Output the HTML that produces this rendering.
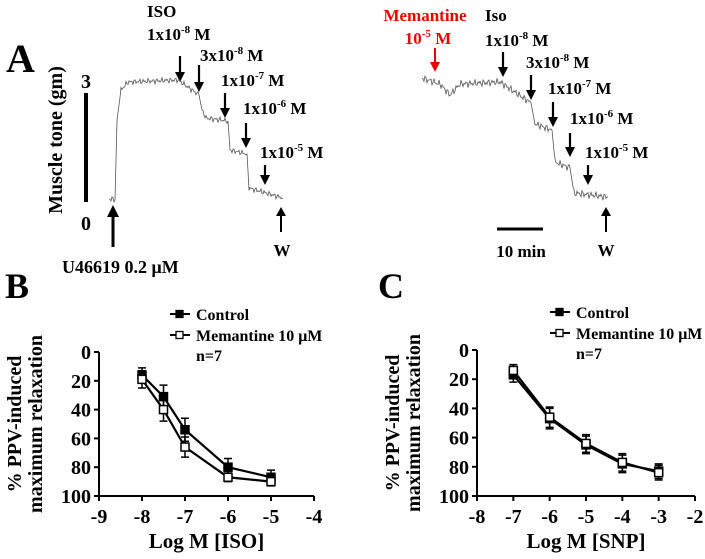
<!DOCTYPE html>
<html><head><meta charset="utf-8"><style>
html,body{margin:0;padding:0;background:#fff;}
svg{display:block;font-family:"Liberation Serif",serif;font-weight:bold;}
</style></head><body>
<svg id="fig" width="705" height="559" viewBox="0 0 705 559" xmlns="http://www.w3.org/2000/svg">
<g id="panelA">
<text x="6" y="72" font-size="40">A</text>
<text transform="translate(62,140) rotate(-90)" text-anchor="middle" font-size="20">Muscle tone (gm)</text>
<line x1="86" y1="93" x2="86" y2="202" stroke="#000" stroke-width="4"/>
<text x="86" y="88" text-anchor="middle" font-size="20">3</text>
<text x="86" y="230" text-anchor="middle" font-size="20">0</text>
<text x="147" y="17" font-size="17">ISO</text>
<g font-size="17">
<text x="147" y="40">1x10<tspan font-size="11" dy="-7">-8</tspan><tspan dy="7"> M</tspan></text>
<text x="200" y="61">3x10<tspan font-size="11" dy="-7">-8</tspan><tspan dy="7"> M</tspan></text>
<text x="221" y="86">1x10<tspan font-size="11" dy="-7">-7</tspan><tspan dy="7"> M</tspan></text>
<text x="243" y="114">1x10<tspan font-size="11" dy="-7">-6</tspan><tspan dy="7"> M</tspan></text>
<text x="260" y="158">1x10<tspan font-size="11" dy="-7">-5</tspan><tspan dy="7"> M</tspan></text>
</g>
<g id="downArrowsL"></g>
<line x1="113" y1="247" x2="113" y2="214" stroke="#000" stroke-width="3"/>
<path d="M107,217 L119,217 L113,205 z" fill="#000"/>
<line x1="281" y1="232" x2="281" y2="214" stroke="#000" stroke-width="2"/>
<path d="M276,216 L286,216 L281,207 z" fill="#000"/>
<text x="62" y="273" font-size="18">U46619 0.2 μM</text>
<text x="282" y="256" text-anchor="middle" font-size="17">W</text>
<polyline id="traceL" fill="none" stroke="#555" stroke-width="0.8"/>
</g>
<g id="panelA2">
<text x="425" y="21" text-anchor="middle" font-size="17" fill="#e00">Memantine</text>
<text x="428" y="44" text-anchor="middle" font-size="17" fill="#e00">10<tspan font-size="11" dy="-7">-5</tspan><tspan dy="7"> M</tspan></text>
<line x1="435" y1="48" x2="435" y2="64" stroke="#e00" stroke-width="2"/>
<path d="M430,62 L440,62 L435,72 z" fill="#e00"/>
<text x="485" y="21" font-size="17">Iso</text>
<g font-size="17">
<text x="485" y="46">1x10<tspan font-size="11" dy="-7">-8</tspan><tspan dy="7"> M</tspan></text>
<text x="526" y="68">3x10<tspan font-size="11" dy="-7">-8</tspan><tspan dy="7"> M</tspan></text>
<text x="548" y="94">1x10<tspan font-size="11" dy="-7">-7</tspan><tspan dy="7"> M</tspan></text>
<text x="570" y="124">1x10<tspan font-size="11" dy="-7">-6</tspan><tspan dy="7"> M</tspan></text>
<text x="585" y="158">1x10<tspan font-size="11" dy="-7">-5</tspan><tspan dy="7"> M</tspan></text>
</g>
<g id="downArrowsR"></g>
<line x1="606" y1="232" x2="606" y2="214" stroke="#000" stroke-width="2"/>
<path d="M601,216 L611,216 L606,207 z" fill="#000"/>
<text x="606" y="256" text-anchor="middle" font-size="17">W</text>
<line x1="497" y1="229" x2="543" y2="229" stroke="#000" stroke-width="3"/>
<text x="521" y="257" text-anchor="middle" font-size="17">10 min</text>
<polyline id="traceR" fill="none" stroke="#555" stroke-width="0.8"/>
</g>
<g id="panelB"></g>
<g id="panelC"></g>
</svg>
<script>
// Panel B data
const bX = [-8, -7.5, -7, -6, -5];
const bControl = [16, 31, 54, 80, 87];
const bControlErr = [5, 8, 8, 6, 5];
const bMem = [19, 40, 66, 87, 90];
const bMemErr = [6, 8, 7, 3, 3];
const bXTicks = [-9, -8, -7, -6, -5, -4];
// Panel C data
const cX = [-7, -6, -5, -4, -3];
const cControl = [17, 47, 65, 78, 83];
const cControlErr = [5, 7, 6, 6, 5];
const cMem = [14, 46, 64, 77, 84];
const cMemErr = [4, 7, 6, 6, 5];
const cXTicks = [-8, -7, -6, -5, -4, -3, -2];
const yTicks = [0, 20, 40, 60, 80, 100];
// trace levels (x, y)
const traceLeftLevels = [[109,199],[113,199],[115,200],[117,120],[121,90],[128,82],[178,80],[199,95],[202,110],[206,118],[228,121],[230,150],[247,154],[249,188],[283,198]];
const traceRightLevels = [[422,78],[440,84],[450,95],[460,84],[500,82],[531,103],[535,124],[552,130],[555,162],[570,168],[574,193],[608,197]];
// arrow annotations [x, yTop, yTip]
const arrowsLeft = [[180,56,82],[199,65,92],[225,93,118],[246,123,148],[265,165,185]];
const arrowsRight = [[503,52,77],[531,75,100],[553,102,127],[570,133,157],[588,165,185]];

const NS = "http://www.w3.org/2000/svg";
function mk(tag, attrs, parent){const e=document.createElementNS(NS,tag);for(const k in attrs)e.setAttribute(k,attrs[k]);parent.appendChild(e);return e;}

function drawArrows(g, list){
  list.forEach(([x,t,b])=>{
    const l=mk('line',{x1:x,x2:x,y1:t,y2:b-8,stroke:'#000','stroke-width':2.2},g);
    
    
    mk('path',{d:`M${x-5},${b-10} L${x+5},${b-10} L${x},${b} z`,fill:'#000'},g);
  });
}
drawArrows(document.getElementById('downArrowsL'),arrowsLeft);
drawArrows(document.getElementById('downArrowsR'),arrowsRight);

function tracePts(levels, amp){
  const pts=[];let k=0;
  for(let i=0;i<levels.length-1;i++){
    const [x0,y0]=levels[i],[x1,y1]=levels[i+1];
    const steep=Math.abs(y1-y0)/(x1-x0)>3;
    for(let x=x0;x<x1;x+=1){
      const t=(x-x0)/(x1-x0);
      const n=steep?0:amp*Math.sin(k*2.7)*Math.cos(k*1.3);k++;
      pts.push(x+","+(y0+(y1-y0)*t+n).toFixed(1));
    }
  }
  const l=levels[levels.length-1];pts.push(l[0]+","+l[1]);
  return pts.join(" ");
}
document.getElementById('traceL').setAttribute('points',tracePts(traceLeftLevels,3));
document.getElementById('traceR').setAttribute('points',tracePts(traceRightLevels,4));

function chart(g, cfg){
  const sx=v=>cfg.x0+(v-cfg.xmin)*(cfg.x1-cfg.x0)/(cfg.xmax-cfg.xmin);
  const sy=v=>cfg.y0+v*(cfg.y1-cfg.y0)/100;
  const t=mk('text',{x:cfg.letterX,y:cfg.letterY,'font-size':36},g);t.textContent=cfg.letter;
  
  
  const ax=mk('path',{d:`M${cfg.x0},${cfg.y0} L${cfg.x0},${cfg.y1} L${cfg.x1},${cfg.y1}`,fill:'none',stroke:'#000','stroke-width':2},g);
  
  
  yTicks.forEach(v=>{
    mk('line',{x1:cfg.x0-5,x2:cfg.x0,y1:sy(v),y2:sy(v),stroke:'#000','stroke-width':2},g);
    const tt=mk('text',{x:cfg.x0-8,y:sy(v)+7,'text-anchor':'end','font-size':20},g);tt.textContent=v;
    
    
  });
  cfg.ticks.forEach(v=>{
    mk('line',{x1:sx(v),x2:sx(v),y1:cfg.y1,y2:cfg.y1+5,stroke:'#000','stroke-width':2},g);
    const tt=mk('text',{x:sx(v),y:cfg.y1+27,'text-anchor':'middle','font-size':20},g);tt.textContent=v;
    
    
  });
  const xt=mk('text',{x:(cfg.x0+cfg.x1)/2,y:cfg.y1+52,'text-anchor':'middle','font-size':21},g);xt.textContent=cfg.xtitle;
  
  
  const yc=(cfg.y0+cfg.y1)/2;
  const y1t=mk('text',{transform:`translate(${cfg.x0-78},${yc}) rotate(-90)`,'text-anchor':'middle','font-size':20},g);y1t.textContent='% PPV-induced';
  
  
  const y2t=mk('text',{transform:`translate(${cfg.x0-57},${yc}) rotate(-90)`,'text-anchor':'middle','font-size':20},g);y2t.textContent='maximum relaxation';
  
  
  [[cfg.ctrl,cfg.ctrlErr,true,'control'],[cfg.mem,cfg.memErr,false,'memantine']].forEach(([vals,errs,filled,nm])=>{
    const pl=mk('polyline',{points:cfg.xs.map((x,i)=>sx(x)+','+sy(vals[i])).join(' '),fill:'none',stroke:'#000','stroke-width':2.2},g);
    
    
    cfg.xs.forEach((x,i)=>{
      const px=sx(x),py=sy(vals[i]),e=errs[i]*(cfg.y1-cfg.y0)/100;
      const eb=mk('path',{d:`M${px},${py-e} L${px},${py+e} M${px-4},${py-e} L${px+4},${py-e} M${px-4},${py+e} L${px+4},${py+e}`,stroke:'#000','stroke-width':1.5,fill:'none'},g);
      
      
      const m=mk('rect',{x:px-4,y:py-4,width:8,height:8,fill:filled?'#000':'#fff',stroke:'#000','stroke-width':1.5},g);
      
      
    });
  });
  const L=cfg.legX, LY=cfg.legY;
  [['Control',true,0],['Memantine 10 μM',false,21]].forEach(([lab,filled,dy])=>{
    mk('line',{x1:L,x2:L+20,y1:LY+dy,y2:LY+dy,stroke:'#000','stroke-width':2},g);
    mk('rect',{x:L+6,y:LY+dy-3.5,width:7,height:7,fill:filled?'#000':'#fff',stroke:'#000','stroke-width':1.3},g);
    const tx=mk('text',{x:L+26,y:LY+dy+6,'font-size':16},g);tx.textContent=lab;
    
    
  });
  const n=mk('text',{x:L+26,y:LY+47,'font-size':16},g);n.textContent='n=7';
  
  
}
chart(document.getElementById('panelB'),{letter:'B',letterX:5,letterY:298,x0:99,x1:314,xmin:-9,xmax:-4,y0:352,y1:496,
  xs:bX,ctrl:bControl,ctrlErr:bControlErr,mem:bMem,memErr:bMemErr,ticks:bXTicks,xtitle:'Log M [ISO]',legX:170,legY:314});
chart(document.getElementById('panelC'),{letter:'C',letterX:378,letterY:298,x0:477,x1:695,xmin:-8,xmax:-2,y0:350,y1:496,
  xs:cX,ctrl:cControl,ctrlErr:cControlErr,mem:cMem,memErr:cMemErr,ticks:cXTicks,xtitle:'Log M [SNP]',legX:550,legY:312});
</script>
</body></html>
